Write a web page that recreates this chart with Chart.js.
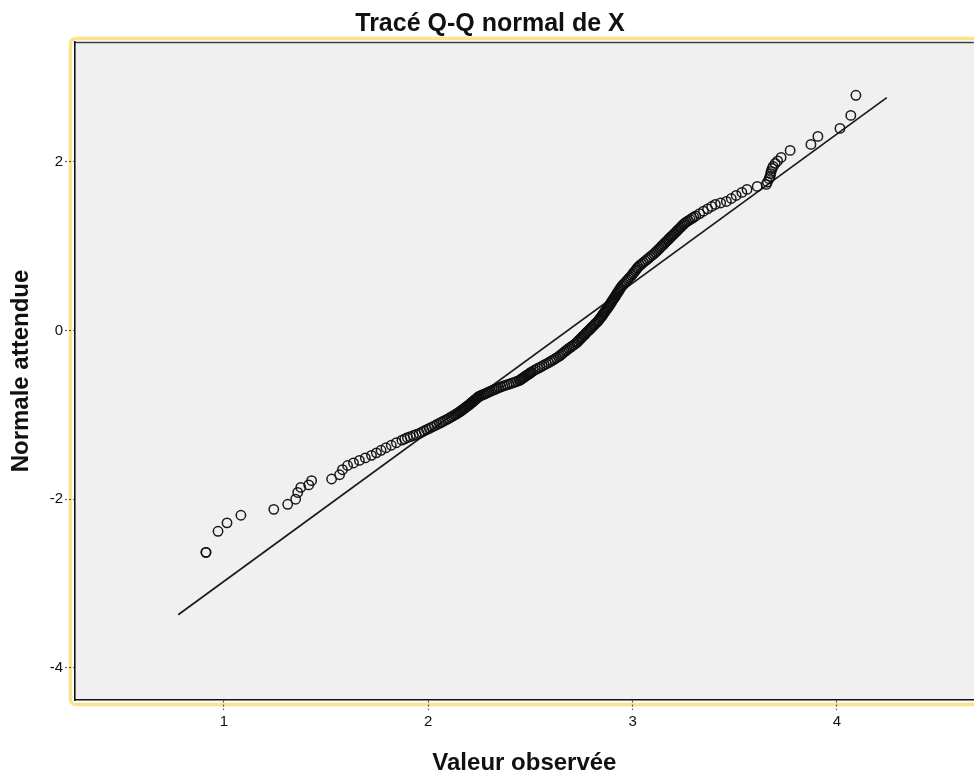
<!DOCTYPE html>
<html lang="fr">
<head>
<meta charset="utf-8">
<title>Tracé Q-Q normal de X</title>
<script src="https://cdn.jsdelivr.net/npm/chart.js@4.4.1/dist/chart.umd.min.js"></script>
<style>
    html, body { margin: 0; padding: 0; background: #ffffff; overflow: hidden; }
    #wrap { width: 974px; height: 773px; overflow: hidden; }
</style>
</head>
<body>
<div id="wrap"><canvas id="qq-chart" width="980" height="773"></canvas></div>
<script>
// Q-Q normal plot of X

// Observed values (x axis)
const observedX = [
    0.912, 0.912, 0.971, 1.015, 1.083, 1.244, 1.312, 1.351, 1.361, 1.376, 1.415, 1.429, 1.527, 1.566, 1.580, 1.605,
    1.634, 1.663, 1.692, 1.722, 1.746, 1.769, 1.793, 1.819, 1.844, 1.871, 1.898, 1.927, 1.956, 1.980, 2.005, 2.030,
    2.054, 2.074, 2.094, 2.113, 2.130,
    2.142, 2.153, 2.162, 2.172, 2.181, 2.190, 2.200, 2.208, 2.216, 2.224, 2.233, 2.241, 2.250, 2.266, 2.282, 2.297,
    2.313, 2.329, 2.345, 2.365, 2.386, 2.407, 2.427, 2.446, 2.456, 2.466, 2.476, 2.487, 2.497,
    2.505, 2.514, 2.524, 2.535, 2.546, 2.557, 2.567, 2.578, 2.589, 2.599, 2.608, 2.618, 2.627, 2.637, 2.645, 2.652,
    2.659, 2.666, 2.673, 2.680, 2.688, 2.696, 2.704, 2.712, 2.720, 2.727, 2.732, 2.738, 2.744, 2.749, 2.755, 2.761,
    2.767, 2.772, 2.778, 2.784, 2.790, 2.795, 2.801, 2.807, 2.813, 2.818, 2.824, 2.830, 2.835, 2.839, 2.843, 2.848,
    2.852, 2.856, 2.860, 2.864, 2.868, 2.872, 2.877, 2.881, 2.885, 2.888, 2.892, 2.896, 2.899, 2.903, 2.907, 2.911,
    2.915, 2.918, 2.922, 2.926, 2.929, 2.933, 2.937, 2.940,
    2.945, 2.951, 2.957, 2.964, 2.970, 2.977, 2.983, 2.989, 2.996, 3.001, 3.006, 3.012, 3.017, 3.023, 3.028, 3.036,
    3.045, 3.053, 3.062, 3.070, 3.079, 3.087, 3.096, 3.104, 3.112, 3.119, 3.126, 3.133, 3.140,
    3.152, 3.163, 3.175, 3.186, 3.198, 3.210, 3.221, 3.233, 3.244, 3.256, 3.273, 3.291, 3.309, 3.328, 3.347, 3.367,
    3.387, 3.405, 3.431, 3.459, 3.483, 3.507, 3.535, 3.560, 3.610, 3.654, 3.660, 3.668, 3.673, 3.676, 3.678, 3.683,
    3.688, 3.698, 3.710, 3.727, 3.771, 3.873, 3.907, 4.015, 4.068, 4.093,
    // tied / in-between cases of the dense part
    1.885, 1.912, 1.941, 1.968, 1.992, 2.017, 2.042, 2.064, 2.084, 2.103, 2.121, 2.136,
    2.147, 2.157, 2.167, 2.176, 2.185, 2.195, 2.204, 2.212, 2.220, 2.228, 2.237, 2.245, 2.258, 2.274, 2.290, 2.305,
    2.321, 2.337, 2.355, 2.375, 2.396, 2.417, 2.436, 2.451, 2.461, 2.471, 2.481, 2.492, 2.501,
    3.146, 3.157, 3.169, 3.180, 3.192, 3.204, 3.215, 3.227, 3.238, 3.250, 3.264, 3.282, 3.300
];

// Expected normal values (y axis), same order
const expectedY = [
    -2.63, -2.63, -2.38, -2.28, -2.19, -2.12, -2.06, -2.00, -1.92, -1.86, -1.83, -1.78, -1.76, -1.71, -1.65, -1.60,
    -1.57, -1.54, -1.51, -1.48, -1.45, -1.42, -1.39, -1.36, -1.33, -1.30, -1.27, -1.245, -1.22, -1.19, -1.16, -1.13,
    -1.10, -1.075, -1.05, -1.025, -1.00,
    -0.983, -0.966, -0.949, -0.932, -0.915, -0.898, -0.881, -0.864, -0.847, -0.830, -0.813, -0.796, -0.779, -0.762, -0.745, -0.728,
    -0.711, -0.694, -0.677, -0.660, -0.643, -0.626, -0.609, -0.592, -0.575, -0.558, -0.541, -0.524, -0.507,
    -0.493, -0.479, -0.465, -0.451, -0.437, -0.423, -0.409, -0.395, -0.381, -0.367, -0.353, -0.339, -0.325, -0.311, -0.297, -0.283,
    -0.269, -0.255, -0.241, -0.227, -0.213, -0.199, -0.185, -0.171, -0.157, -0.143, -0.129, -0.115, -0.101, -0.087, -0.073, -0.059,
    -0.045, -0.031, -0.017, -0.003, 0.011, 0.025, 0.039, 0.053, 0.067, 0.081, 0.095, 0.109, 0.123, 0.137, 0.151, 0.165,
    0.179, 0.193, 0.207, 0.221, 0.235, 0.249, 0.263, 0.277, 0.291, 0.305, 0.319, 0.333, 0.347, 0.361, 0.375, 0.389,
    0.403, 0.417, 0.431, 0.445, 0.459, 0.473, 0.487, 0.501,
    0.518, 0.535, 0.552, 0.569, 0.586, 0.603, 0.620, 0.637, 0.654, 0.671, 0.688, 0.705, 0.722, 0.739, 0.756, 0.773,
    0.790, 0.807, 0.824, 0.841, 0.858, 0.875, 0.892, 0.909, 0.926, 0.943, 0.960, 0.977, 0.994,
    1.022, 1.050, 1.078, 1.106, 1.134, 1.162, 1.190, 1.218, 1.246, 1.274, 1.302, 1.330, 1.358, 1.386, 1.414, 1.442,
    1.470, 1.495, 1.512, 1.530, 1.565, 1.601, 1.637, 1.673, 1.708, 1.732, 1.760, 1.800, 1.827, 1.860, 1.886, 1.920,
    1.945, 1.981, 2.010, 2.052, 2.135, 2.206, 2.301, 2.396, 2.550, 2.788,
    // tied / in-between cases of the dense part
    -1.285, -1.258, -1.233, -1.205, -1.175, -1.145, -1.115, -1.088, -1.063, -1.038, -1.013, -0.992,
    -0.975, -0.958, -0.941, -0.924, -0.907, -0.890, -0.873, -0.856, -0.839, -0.822, -0.805, -0.788, -0.771, -0.754, -0.737, -0.720,
    -0.703, -0.686, -0.669, -0.652, -0.635, -0.618, -0.601, -0.584, -0.567, -0.550, -0.533, -0.516, -0.500,
    1.008, 1.036, 1.064, 1.092, 1.120, 1.148, 1.176, 1.204, 1.232, 1.260, 1.288, 1.316, 1.344
];

// Reference line end points
const lineX = [0.776, 4.244];
const lineY = [-3.37, 2.76];

// Tick labels
const xTicks = [1, 2, 3, 4];
const yTicks = [-4, -2, 0, 2];

const FONT = "'Liberation Sans', Arial, sans-serif";
const INK = '#111111';

// Plot background + yellow frame, drawn before the scales
const framePlugin = {
    id: 'frame',
    beforeDraw(chart) {
        const { ctx, chartArea: a } = chart;
        ctx.save();
        ctx.fillStyle = '#f0f0f0';
        ctx.fillRect(a.left, a.top, a.right - a.left, a.bottom - a.top);

        // rounded yellow outline around the plot
        ctx.strokeStyle = '#fae38f';
        ctx.lineWidth = 3.5;
        ctx.beginPath();
        ctx.roundRect(a.left - 4.5, a.top - 3.5, a.right - a.left + 30, a.bottom - a.top + 8, 5);
        ctx.stroke();

        // top edge of the plot
        ctx.strokeStyle = '#3c3c3c';
        ctx.lineWidth = 1.5;
        ctx.beginPath();
        ctx.moveTo(a.left, a.top + 0.5);
        ctx.lineTo(a.right, a.top + 0.5);
        ctx.stroke();
        ctx.restore();
    }
};

function buildChart() {
    const ctx = document.getElementById('qq-chart').getContext('2d');
    const points = observedX.map((x, i) => ({ x, y: expectedY[i] }));
    const refLine = lineX.map((x, i) => ({ x, y: lineY[i] }));

    new Chart(ctx, {
        type: 'scatter',
        data: {
            datasets: [
                {
                    label: 'Observé',
                    data: points,
                    pointStyle: 'circle',
                    pointRadius: 4.7,
                    pointHoverRadius: 4.7,
                    borderWidth: 1.5,
                    borderColor: 'rgba(15,15,15,0.95)',
                    backgroundColor: 'rgba(0,0,0,0)'
                },
                {
                    type: 'line',
                    label: 'Droite',
                    data: refLine,
                    showLine: true,
                    pointRadius: 0,
                    borderColor: '#1a1a1a',
                    borderWidth: 1.7,
                    fill: false
                }
            ]
        },
        options: {
            responsive: false,
            animation: false,
            devicePixelRatio: 1,
            layout: { padding: 0 },
            plugins: {
                legend: { display: false },
                tooltip: { enabled: false },
                title: {
                    display: true,
                    text: 'Tracé Q-Q normal de X',
                    color: INK,
                    font: { family: FONT, size: 25, weight: 'bold', lineHeight: 1.2 },
                    padding: { top: 9, bottom: 3 }
                }
            },
            scales: {
                x: {
                    type: 'linear',
                    min: 0.271,
                    max: 4.67,
                    afterFit: s => { s.height = 73; },
                    afterBuildTicks: s => { s.ticks = xTicks.map(v => ({ value: v })); },
                    border: { display: true, color: INK, width: 1.6 },
                    grid: {
                        drawOnChartArea: false,
                        drawTicks: true,
                        tickLength: 10,
                        tickColor: '#555',
                        tickWidth: 1.2,
                        tickBorderDash: [2, 2]
                    },
                    ticks: {
                        color: INK,
                        padding: 3,
                        font: { family: FONT, size: 15 }
                    },
                    title: {
                        display: true,
                        text: 'Valeur observée',
                        color: INK,
                        font: { family: FONT, size: 24, weight: 'bold', lineHeight: 1.2 },
                        padding: { top: 0, bottom: -5 }
                    }
                },
                y: {
                    type: 'linear',
                    min: -4.38,
                    max: 3.42,
                    afterFit: s => { s.width = 75; },
                    afterBuildTicks: s => { s.ticks = yTicks.map(v => ({ value: v })); },
                    border: { display: true, color: INK, width: 1.6 },
                    grid: {
                        drawOnChartArea: false,
                        drawTicks: true,
                        tickLength: 10,
                        tickColor: '#555',
                        tickWidth: 1.2,
                        tickBorderDash: [2, 2]
                    },
                    ticks: {
                        color: INK,
                        padding: 2,
                        font: { family: FONT, size: 15 }
                    },
                    title: {
                        display: true,
                        text: 'Normale attendue',
                        color: INK,
                        font: { family: FONT, size: 24, weight: 'bold', lineHeight: 1.2 },
                        padding: { top: 6.5, bottom: 0 }
                    }
                }
            }
        },
        plugins: [framePlugin]
    });
}

document.addEventListener('DOMContentLoaded', buildChart);
</script>
</body>
</html>
